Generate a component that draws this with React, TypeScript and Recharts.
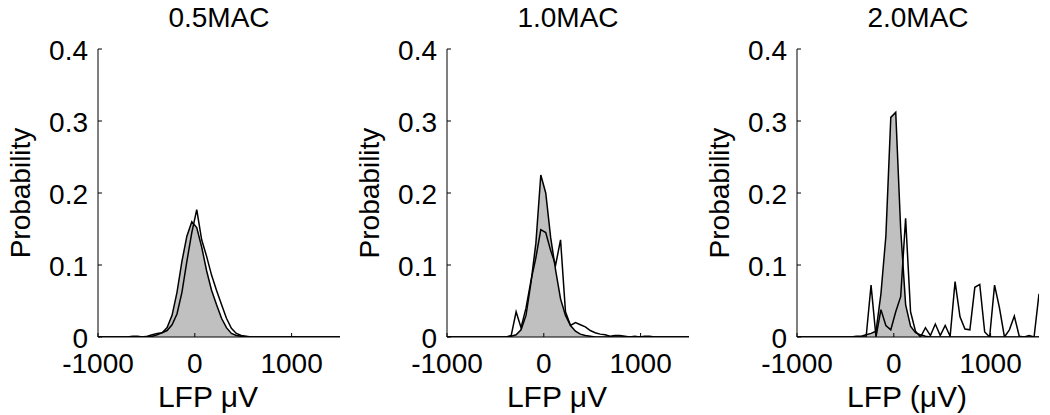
import React from 'react';
import { ComposedChart, Area, Line, XAxis, YAxis } from 'recharts';

// bin centres of the LFP histograms (uV)
const lfpBins = [
  -1000, -949, -898, -847, -796, -745, -694, -643, -592, -541,
  -490, -439, -388, -337, -286, -235, -184, -133, -82, -31,
  20, 71, 122, 173, 224, 276, 327, 378, 429, 480,
  531, 582, 633, 684, 735, 786, 837, 888, 939, 990,
  1041, 1092, 1143, 1194, 1245, 1296, 1347, 1398, 1449, 1500,
];

// 0.5 MAC
const fill05 = [
  0, 0, 0, 0, 0, 0, 0, 0, 0, 0,
  0, 0.001, 0.003, 0.006, 0.013, 0.03, 0.062, 0.105, 0.14, 0.16,
  0.152, 0.125, 0.092, 0.065, 0.045, 0.026, 0.013, 0.005, 0.002, 0.001,
  0, 0, 0, 0, 0, 0, 0, 0, 0, 0,
  0, 0, 0, 0, 0, 0, 0, 0, 0, 0,
];
const trace05 = [
  0, 0, 0, 0, 0, 0, 0, 0.001, 0.001, 0,
  0.001, 0.003, 0.005, 0.006, 0.009, 0.017, 0.032, 0.062, 0.105, 0.145,
  0.177, 0.135, 0.112, 0.086, 0.065, 0.045, 0.026, 0.012, 0.005, 0.002,
  0.001, 0, 0, 0, 0, 0, 0, 0, 0, 0,
  0, 0, 0, 0, 0, 0, 0, 0, 0, 0,
];

// 1.0 MAC
const fill10 = [
  0, 0, 0, 0, 0, 0, 0, 0, 0, 0,
  0, 0, 0, 0.001, 0.003, 0.01, 0.03, 0.075, 0.13, 0.225,
  0.2, 0.138, 0.093, 0.053, 0.03, 0.016, 0.008, 0.004, 0.002, 0.001,
  0, 0, 0, 0, 0, 0, 0, 0, 0, 0,
  0, 0, 0, 0, 0, 0, 0, 0, 0, 0,
];
const trace10 = [
  0, 0, 0, 0, 0, 0, 0, 0, 0, 0,
  0, 0, 0, 0.002, 0.035, 0.013, 0.04, 0.078, 0.11, 0.149,
  0.145, 0.12, 0.1, 0.135, 0.035, 0.016, 0.02, 0.017, 0.014, 0.009,
  0.006, 0.004, 0.003, 0.001, 0.002, 0.002, 0.001, 0, 0.001, 0,
  0.001, 0.001, 0, 0, 0, 0, 0, 0, 0, 0,
];

// 2.0 MAC
const fill20 = [
  0, 0, 0, 0, 0, 0, 0, 0, 0, 0,
  0, 0, 0.001, 0.001, 0.003, 0.005, 0.008, 0.06, 0.14, 0.305,
  0.312, 0.15, 0.045, 0.015, 0.006, 0.003, 0.001, 0, 0, 0,
  0, 0, 0, 0, 0, 0, 0, 0, 0, 0,
  0, 0, 0, 0, 0, 0, 0, 0, 0, 0,
];
const trace20 = [
  0, 0, 0, 0, 0, 0, 0, 0, 0, 0,
  0, 0, 0, 0, 0, 0.072, 0, 0.038, 0.016, 0.01,
  0.035, 0.056, 0.165, 0.035, 0.008, 0, 0.013, 0.002, 0.018, 0.002,
  0.016, 0.001, 0.077, 0.028, 0.011, 0.01, 0.069, 0.073, 0.007, 0,
  0.072, 0.04, 0, 0.01, 0.029, 0.001, 0, 0.002, 0, 0.06,
];

const titles = ['0.5MAC', '1.0MAC', '2.0MAC'];
const xLabels = ['LFP \u03bcV', 'LFP \u03bcV', 'LFP (\u03bcV)'];
const xTicks = [-1000, 0, 1000];
const yTicks = [0, 0.1, 0.2, 0.3, 0.4];

const FONT = '"Liberation Sans", Arial, Helvetica, sans-serif';
const FS = 28;

const panels = [
  { fill: fill05, trace: trace05 },
  { fill: fill10, trace: trace10 },
  { fill: fill20, trace: trace20 },
];
const panelLeft = [0, 349, 699];

const BottomTick = (props: any) => {
  const { x, y, payload } = props;
  return (
    <g>
      <line x1={x} x2={x} y1={y} y2={y - 4} stroke="#000" />
      <text x={x} y={y + 36} textAnchor="middle" fontSize={FS} fontFamily={FONT} fill="#000">
        {payload.value}
      </text>
    </g>
  );
};

const TopTick = (props: any) => {
  const { x, y } = props;
  return <line x1={x} x2={x} y1={y} y2={y + 4} stroke="#000" />;
};

const LeftTick = (props: any) => {
  const { x, y, payload } = props;
  return (
    <g>
      <line x1={x} x2={x + 4} y1={y} y2={y} stroke="#000" />
      <text x={x - 10} y={y + 11} textAnchor="end" fontSize={FS} fontFamily={FONT} fill="#000">
        {payload.value}
      </text>
    </g>
  );
};

const RightTick = (props: any) => {
  const { x, y } = props;
  return <line x1={x} x2={x - 4} y1={y} y2={y} stroke="#000" />;
};

const Panel = ({ fill, trace }: { fill: number[]; trace: number[] }) => {
  const rows = lfpBins.map((x, i) => ({ x, fill: fill[i], trace: trace[i] }));
  return (
    <ComposedChart width={350} height={415} data={rows} margin={{ top: 49, right: 10, bottom: 0, left: 0 }}>
      <XAxis
        xAxisId="b"
        dataKey="x"
        type="number"
        domain={[-1000, 1500]}
        allowDataOverflow
        ticks={xTicks}
        interval={0}
        height={78}
        tickSize={0}
        tickMargin={0}
        tickLine={false}
        axisLine={{ stroke: '#000' }}
        tick={BottomTick}
      />
      <XAxis
        xAxisId="t"
        orientation="top"
        type="number"
        domain={[-1000, 1500]}
        allowDataOverflow
        ticks={xTicks}
        interval={0}
        height={0}
        tickSize={0}
        tickMargin={0}
        tickLine={false}
        axisLine={{ stroke: '#000' }}
        tick={TopTick}
      />
      <YAxis
        yAxisId="l"
        type="number"
        domain={[0, 0.4]}
        allowDataOverflow
        ticks={yTicks}
        interval={0}
        width={98}
        tickSize={0}
        tickMargin={0}
        tickLine={false}
        axisLine={{ stroke: '#000' }}
        tick={LeftTick}
      />
      <YAxis
        yAxisId="r"
        orientation="right"
        type="number"
        domain={[0, 0.4]}
        allowDataOverflow
        ticks={yTicks}
        interval={0}
        width={0}
        tickSize={0}
        tickMargin={0}
        tickLine={false}
        axisLine={{ stroke: '#000' }}
        tick={RightTick}
      />
      <Area
        xAxisId="b"
        yAxisId="l"
        type="linear"
        dataKey="fill"
        stroke="#000"
        strokeWidth={1.5}
        fill="#c0c0c0"
        fillOpacity={1}
        dot={false}
        activeDot={false}
        isAnimationActive={false}
      />
      <Line
        xAxisId="b"
        yAxisId="l"
        type="linear"
        dataKey="trace"
        stroke="#000"
        strokeWidth={1.5}
        dot={false}
        activeDot={false}
        isAnimationActive={false}
      />
    </ComposedChart>
  );
};

export default function App() {
  return (
    <div style={{ position: 'absolute', left: 0, top: 0, width: 1050, height: 415, background: '#fff' }}>
      {panels.map((p, i) => (
        <div key={i} style={{ position: 'absolute', left: panelLeft[i], top: 0 }}>
          <Panel fill={p.fill} trace={p.trace} />
        </div>
      ))}
      <svg width={1050} height={415} style={{ position: 'absolute', left: 0, top: 0, pointerEvents: 'none' }}>
        {panelLeft.map((left, i) => (
          <g key={i} fontFamily={FONT} fill="#000">
            <text x={left + 219} y={27} textAnchor="middle" fontSize={FS}>{titles[i]}</text>
            <text x={left + 208} y={407} textAnchor="middle" fontSize={30} style={{ whiteSpace: 'pre' }}>
              {xLabels[i]}
            </text>
            <text
              x={left + 29.5}
              y={193}
              textAnchor="middle"
              fontSize={FS}
              transform={`rotate(-90 ${left + 29.5} 193)`}
            >
              Probability
            </text>
          </g>
        ))}
      </svg>
    </div>
  );
}
